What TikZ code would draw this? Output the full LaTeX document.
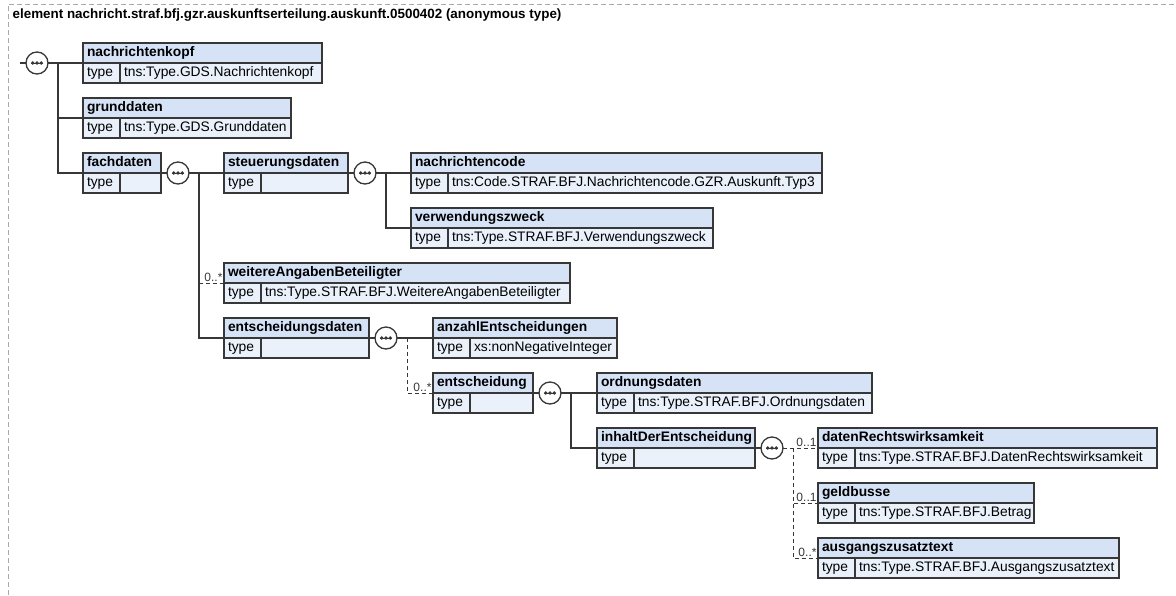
\documentclass[tikz,border=0pt]{standalone}
\usepackage{fontspec}
\setmainfont{Liberation Sans}
\usepackage{tikz}
\usetikzlibrary{positioning, shadows}

\definecolor{hdrblue}{RGB}{214,227,247}
\definecolor{rowblue}{RGB}{234,241,251}
\definecolor{boxline}{RGB}{55,55,55}
\definecolor{frameline}{RGB}{170,170,170}

\begin{document}
\begin{tikzpicture}[x=1pt, y=-1pt, line width=1.3pt, draw=boxline,
    hdr/.style={draw=boxline, fill=hdrblue, font=\fontsize{13.8}{15}\selectfont\bfseries, minimum height=20pt, inner xsep=4pt, inner ysep=0pt, outer sep=0pt, text height=10pt, text depth=3pt, anchor=north west, align=left,
        drop shadow={shadow xshift=1.2pt, shadow yshift=-1.2pt, fill=black!30, opacity=1}},
    tcell/.style={hdr, fill=rowblue, font=\fontsize{13.8}{15}\selectfont, text width=29pt},
    vcell/.style={tcell, text width=#1},
    seq/.style={circle, draw=boxline, fill=white, minimum size=22pt, inner sep=0pt, outer sep=0pt,
        path picture={
            \draw[boxline, line width=0.8pt] ([xshift=-6pt]path picture bounding box.center) -- ([xshift=6pt]path picture bounding box.center);
            \fill[boxline] ([xshift=-4.3pt]path picture bounding box.center) circle (1.9pt);
            \fill[boxline] (path picture bounding box.center) circle (1.9pt);
            \fill[boxline] ([xshift=4.3pt]path picture bounding box.center) circle (1.9pt);}},
    opt/.style={line width=1pt, dash pattern=on 4pt off 3pt},
    mult/.style={font=\fontsize{12}{13}\selectfont, text=boxline, inner sep=1pt, anchor=south east}]
    \useasboundingbox (0,0) rectangle (1176,595);

    % Frame and title
    \draw[frameline, line width=1pt, dash pattern=on 5pt off 3pt] (8,595) -- (8,4) -- (1176,4);
    \node (Title) [anchor=base west, inner sep=0pt, font=\fontsize{13.4}{15}\selectfont\bfseries] at (12,18) {element nachricht.straf.bfj.gzr.auskunftserteilung.auskunft.0500402 (anonymous type)};

    % Elements
    \node (KopfH) [hdr, text width=231pt] at (83,43) {nachrichtenkopf};
    \node (KopfT) [tcell] at (KopfH.south west) {type};
    \node (KopfV) [vcell=194pt] at (KopfT.north east) {tns:Type.GDS.Nachrichtenkopf};

    \node (GrundH) [hdr, text width=200pt] at (83,98) {grunddaten};
    \node (GrundT) [tcell] at (GrundH.south west) {type};
    \node (GrundV) [vcell=163pt] at (GrundT.north east) {tns:Type.GDS.Grunddaten};

    \node (FachH) [hdr, text width=70pt] at (83,153) {fachdaten};
    \node (FachT) [tcell] at (FachH.south west) {type};
    \node (FachV) [vcell=33pt] at (FachT.north east) {};

    \node (SteuH) [hdr, text width=116pt] at (224,153) {steuerungsdaten};
    \node (SteuT) [tcell] at (SteuH.south west) {type};
    \node (SteuV) [vcell=79pt] at (SteuT.north east) {};

    \node (CodeH) [hdr, text width=403pt] at (411,153) {nachrichtencode};
    \node (CodeT) [tcell] at (CodeH.south west) {type};
    \node (CodeV) [vcell=366pt] at (CodeT.north east) {tns:Code.STRAF.BFJ.Nachrichtencode.GZR.Auskunft.Typ3};

    \node (ZweckH) [hdr, text width=294pt] at (411,208) {verwendungszweck};
    \node (ZweckT) [tcell] at (ZweckH.south west) {type};
    \node (ZweckV) [vcell=257pt] at (ZweckT.north east) {tns:Type.STRAF.BFJ.Verwendungszweck};

    \node (WeitH) [hdr, text width=338pt] at (224,263) {weitereAngabenBeteiligter};
    \node (WeitT) [tcell] at (WeitH.south west) {type};
    \node (WeitV) [vcell=301pt] at (WeitT.north east) {tns:Type.STRAF.BFJ.WeitereAngabenBeteiligter};

    \node (EntsdH) [hdr, text width=137pt] at (224,318) {entscheidungsdaten};
    \node (EntsdT) [tcell] at (EntsdH.south west) {type};
    \node (EntsdV) [vcell=100pt] at (EntsdT.north east) {};

    \node (AnzH) [hdr, text width=176pt] at (433,318) {anzahlEntscheidungen};
    \node (AnzT) [tcell] at (AnzH.south west) {type};
    \node (AnzV) [vcell=139pt] at (AnzT.north east) {xs:nonNegativeInteger};

    \node (EntH) [hdr, text width=92pt] at (433,373) {entscheidung};
    \node (EntT) [tcell] at (EntH.south west) {type};
    \node (EntV) [vcell=55pt] at (EntT.north east) {};

    \node (OrdH) [hdr, text width=267pt] at (597,373) {ordnungsdaten};
    \node (OrdT) [tcell] at (OrdH.south west) {type};
    \node (OrdV) [vcell=230pt] at (OrdT.north east) {tns:Type.STRAF.BFJ.Ordnungsdaten};

    \node (InhH) [hdr, text width=150pt] at (597,428) {inhaltDerEntscheidung};
    \node (InhT) [tcell] at (InhH.south west) {type};
    \node (InhV) [vcell=113pt] at (InhT.north east) {};

    \node (DatH) [hdr, text width=331pt] at (818,428) {datenRechtswirksamkeit};
    \node (DatT) [tcell] at (DatH.south west) {type};
    \node (DatV) [vcell=294pt] at (DatT.north east) {tns:Type.STRAF.BFJ.DatenRechtswirksamkeit};

    \node (GeldH) [hdr, text width=208pt] at (818,483) {geldbusse};
    \node (GeldT) [tcell] at (GeldH.south west) {type};
    \node (GeldV) [vcell=171pt] at (GeldT.north east) {tns:Type.STRAF.BFJ.Betrag};

    \node (AusH) [hdr, text width=293pt] at (818,538) {ausgangszusatztext};
    \node (AusT) [tcell] at (AusH.south west) {type};
    \node (AusV) [vcell=256pt] at (AusT.north east) {tns:Type.STRAF.BFJ.Ausgangszusatztext};

    % Sequences
    \node (Seq0) [seq] at (37,63) {};
    \node (SeqFach) [seq, right=6pt of FachH.south east] {};
    \node (SeqSteu) [seq, right=6pt of SteuH.south east] {};
    \node (SeqEntsd) [seq, right=6pt of EntsdH.south east] {};
    \node (SeqEnt) [seq, right=6pt of EntH.south east] {};
    \node (SeqInh) [seq, right=6pt of InhH.south east] {};

    \coordinate (In) at (20,63);
    \coordinate (Bus0) at ([xshift=10pt]Seq0.east);
    \coordinate (BusFach) at ([xshift=10pt]SeqFach.east);
    \coordinate (BusSteu) at ([xshift=10pt]SeqSteu.east);
    \coordinate (BusEntsd) at ([xshift=10pt]SeqEntsd.east);
    \coordinate (BusEnt) at ([xshift=10pt]SeqEnt.east);
    \coordinate (BusInh) at ([xshift=10pt]SeqInh.east);

    % Connectors
    \draw (In) -- (Seq0.west);
    \draw (Seq0.east) -- (KopfH.south west);
    \draw (Bus0) |- (GrundH.south west);
    \draw (Bus0) |- (FachH.south west);

    \draw (FachH.south east) -- (SeqFach.west);
    \draw (SeqFach.east) -- (SteuH.south west);
    \draw (BusFach) |- (EntsdH.south west);
    \draw[opt] (BusFach |- WeitH.south west) -- node (MultWeit) [mult, pos=1] {0..*} (WeitH.south west);

    \draw (SteuH.south east) -- (SeqSteu.west);
    \draw (SeqSteu.east) -- (CodeH.south west);
    \draw (BusSteu) |- (ZweckH.south west);

    \draw (EntsdH.south east) -- (SeqEntsd.west);
    \draw (SeqEntsd.east) -- (AnzH.south west);
    \draw[opt] (BusEntsd) |- node (MultEnt) [mult, pos=1] {0..*} (EntH.south west);

    \draw (EntH.south east) -- (SeqEnt.west);
    \draw (SeqEnt.east) -- (OrdH.south west);
    \draw (BusEnt) |- (InhH.south west);

    \draw (InhH.south east) -- (SeqInh.west);
    \draw[opt] (SeqInh.east) -- node (MultDat) [mult, pos=1] {0..1} (DatH.south west);
    \draw[opt] (BusInh) |- node (MultGeld) [mult, pos=1] {0..1} (GeldH.south west);
    \draw[opt] (BusInh) |- node (MultAus) [mult, pos=1] {0..*} (AusH.south west);
\end{tikzpicture}
\end{document}
